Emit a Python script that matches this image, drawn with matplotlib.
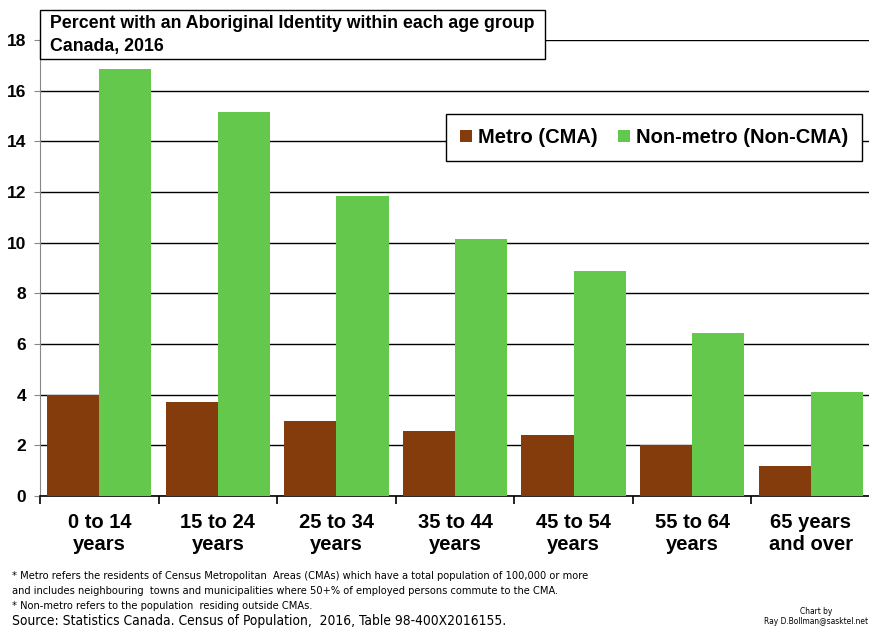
import matplotlib
matplotlib.use('Agg')
import matplotlib.pyplot as plt
from matplotlib.patches import Rectangle
from matplotlib import font_manager
import numpy as np

plt.rcParams['font.family'] = ['Liberation Sans', 'DejaVu Sans']

# data
age_groups = ['0 to 14\nyears', '15 to 24\nyears', '25 to 34\nyears', '35 to 44\nyears',
              '45 to 54\nyears', '55 to 64\nyears', '65 years\nand over']
metro = [4.0, 3.7, 2.98, 2.55, 2.42, 2.02, 1.2]
non_metro = [16.85, 15.15, 11.85, 10.15, 8.9, 6.42, 4.12]
series_names = ['Metro (CMA)', 'Non-metro (Non-CMA)']
colors = ['#843C0C', '#63C84C']

W, H = 870, 630
fig = plt.figure(figsize=(W / 100, H / 100), dpi=100)
ax = fig.add_axes([40 / W, 1 - 496 / H, 830 / W, 456 / H])

x = np.arange(len(age_groups))
w = 0.44
ax.bar(x - w / 2, metro, w, color=colors[0], label=series_names[0], zorder=3)
ax.bar(x + w / 2, non_metro, w, color=colors[1], label=series_names[1], zorder=3)

ax.set_xlim(-0.5, len(age_groups) - 0.5)
ax.set_ylim(0, 18)
ax.set_yticks(range(0, 19, 2))
ax.yaxis.grid(True, color='black', lw=1.0, zorder=0)
ax.set_axisbelow(True)

for s in ['top', 'right']:
    ax.spines[s].set_visible(False)
ax.spines['left'].set_color('#888888')
ax.spines['bottom'].set_color('black')
ax.spines['bottom'].set_linewidth(1.2)

ax.set_xticks(x)
ax.set_xticklabels(age_groups, fontsize=14.5, fontweight='bold', linespacing=1.25)
ax.tick_params(axis='x', length=0, pad=12)
ax.set_xticks(np.arange(-0.5, len(age_groups), 1), minor=True)
ax.tick_params(axis='x', which='minor', length=6, width=1.2, color='black', direction='out')
ax.tick_params(axis='y', length=4, color='#888888', labelsize=12.5, pad=6)
for lbl in ax.get_yticklabels():
    lbl.set_fontweight('bold')

# title box
fig.patches.append(Rectangle((40 / W, 1 - 59 / H), 505 / W, 49 / H, transform=fig.transFigure,
                             facecolor='white', edgecolor='black', lw=1.0, zorder=5))
fig.text(50 / W, 1 - 24 / H, 'Percent with an Aboriginal Identity within each age group',
         fontsize=12.8, fontweight='bold', va='center', ha='left', zorder=6)
fig.text(50 / W, 1 - 46 / H, 'Canada, 2016',
         fontsize=12.8, fontweight='bold', va='center', ha='left', zorder=6)

leg = fig.legend(*ax.get_legend_handles_labels(), loc='upper right',
                 bbox_to_anchor=(862 / W, 1 - 114 / H), ncol=2, frameon=True,
                 fancybox=False, edgecolor='black', prop={'weight': 'bold', 'size': 14.5},
                 handlelength=0.6, handleheight=0.6, handletextpad=0.3, columnspacing=1.0,
                 borderpad=0.7, borderaxespad=0, framealpha=1)
leg.get_frame().set_linewidth(1.0)

# footnotes, one line at a time
narrow = font_manager.FontProperties(family=['Liberation Sans Narrow', 'DejaVu Sans'],
                                     stretch='condensed', size=7.95)
notes = ['* Metro refers the residents of Census Metropolitan  Areas (CMAs) which have a total population of 100,000 or more',
         'and includes neighbouring  towns and municipalities where 50+% of employed persons commute to the CMA.',
         '* Non-metro refers to the population  residing outside CMAs.']
note_y = [576, 591, 606]
for txt, yy in zip(notes, note_y):
    fig.text(12 / W, 1 - yy / H, txt, fontproperties=narrow, va='center', ha='left')
source = 'Source: Statistics Canada. Census of Population,  2016, Table 98-400X2016155.'
fig.text(12 / W, 1 - 621 / H, source, fontproperties=narrow, size=9.9, va='center', ha='left')
small = font_manager.FontProperties(family=['Liberation Sans Narrow', 'DejaVu Sans'],
                                    stretch='condensed', size=6)
fig.text(0.998, 0.006, 'Chart by\nRay D.Bollman@sasktel.net', fontproperties=small,
         ha='right', va='bottom', multialignment='center')

fig.savefig('out.png', dpi=100)
